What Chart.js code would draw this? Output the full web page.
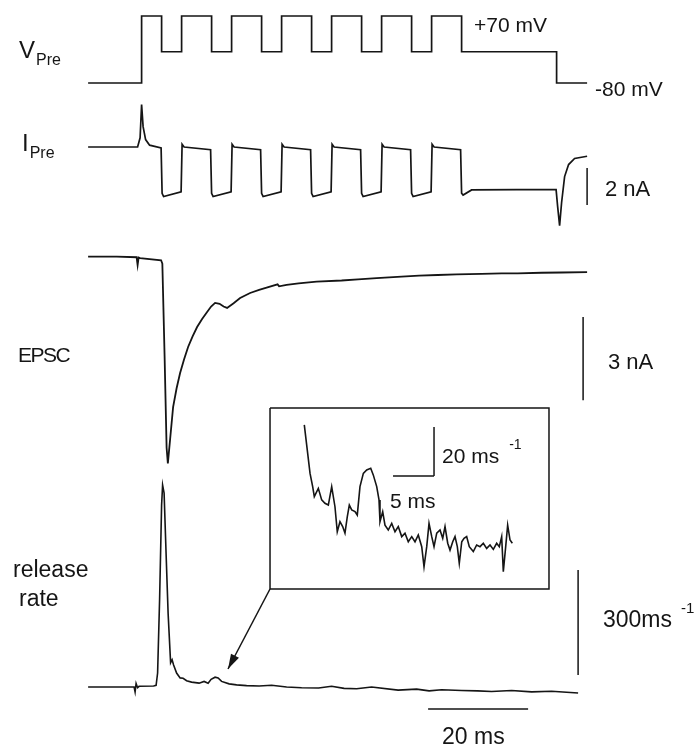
<!DOCTYPE html>
<html><head><meta charset="utf-8">
<script src="https://cdn.jsdelivr.net/npm/chart.js@4.4.1/dist/chart.umd.min.js"></script>
<style>html,body{margin:0;padding:0;background:#fff;} canvas{display:block}</style>
</head><body><canvas id="c" width="697" height="750"></canvas>
<script>
// ---------- data (time in ms) ----------
const vPreTimeMs = [-10.7,0, 0,4, 4,8, 8,14, 14,18, 18,24, 24,28, 28,34, 34,38, 38,44, 44,48, 48,54, 54,58, 58,64, 64,83, 83,89.1];
const vPreMv     = [-80,-80, 70,70, -10,-10, 70,70, -10,-10, 70,70, -10,-10, 70,70, -10,-10, 70,70, -10,-10, 70,70, -10,-10, 70,70, -10,-10, -80,-80];

const iPreTimeMs = [-10.7,-0.8,-0.3,0.0,0.3,0.8,1.6,3.9,4.1,4.4,7.9,8.1,8.5,13.8,14.0,14.3,17.9,18.1,18.5,23.8,24.0,24.3,27.9,28.1,28.5,33.8,34.0,34.3,37.9,38.1,38.5,43.8,44.0,44.3,47.9,48.1,48.5,53.8,54.0,54.3,57.9,58.1,58.5,63.8,64.0,64.3,66.0,75.0,82.9,83.2,83.6,84.0,84.6,85.4,86.6,89.1];
const iPreNa     = [0,0,0.5,2.3,1.1,0.4,0.1,-0.05,-2.5,-2.68,-2.42,0.15,0.0,-0.15,-2.5,-2.68,-2.42,0.15,0.0,-0.15,-2.5,-2.68,-2.42,0.15,0.0,-0.15,-2.5,-2.68,-2.42,0.15,0.0,-0.15,-2.5,-2.68,-2.42,0.15,0.0,-0.15,-2.5,-2.68,-2.42,0.15,0.0,-0.15,-2.5,-2.6,-2.32,-2.3,-2.3,-3.2,-4.25,-3.0,-1.6,-0.95,-0.62,-0.5];

const epscTimeMs = [-10.7,-5,-1.0,-0.8,-0.6,-0.3,3.9,4.15,4.6,5.0,5.25,5.7,6.3,7.0,7.7,8.5,9.3,10.2,11.1,12.1,13.1,13.9,14.7,15.6,16.4,17.1,18.4,19.7,21.7,23.5,25,27.2,27.5,29,31.4,35,40,43.3,47,52,55.5,59.2,63,68,72,75.2,80,84,89.1];
const epscNa     = [0,0,-0.02,-0.3,-0.03,-0.05,-0.13,-0.25,-3.6,-6.9,-7.46,-6.6,-5.43,-4.75,-4.2,-3.7,-3.26,-2.88,-2.54,-2.25,-2.0,-1.8,-1.67,-1.7,-1.8,-1.85,-1.68,-1.49,-1.31,-1.2,-1.12,-1.0,-1.07,-1.02,-0.96,-0.9,-0.86,-0.82,-0.77,-0.72,-0.68,-0.66,-0.64,-0.62,-0.6,-0.6,-0.58,-0.57,-0.56];

const releaseTimeMs = [-10.7,-1.5,-1.3,-1.1,-0.8,-0.5,2.4,2.9,3.2,3.6,4.0,4.2,4.5,4.9,5.3,5.8,6.1,6.4,7.0,7.7,8.3,9.0,10.0,11.5,12.5,13.3,13.9,14.7,15.3,16.0,17.5,19,21,23.5,26,29,32,35.4,38,40.5,43,46,51.3,55,57.5,60,64,67.2,70,74,78,82,85,87.3];
const releaseRate   = [0,0,-14,10,-2,2,3,5,40,250,520,577,554,380,211,69,78,63,40,26,25,18,14,11,16,11,22,28,26,16,9,6,4,3,5,0,-2,-3,2,-4,-5,0,-9,-6,-11,-8,-10,-11,-13,-10,-14,-12,-15,-17];

// inset: expanded release rate (ms, ms^-1)
const insetTimeMs = [6.50,7.20,7.52,7.72,8.21,8.62,9.02,9.43,9.84,10.24,10.52,10.85,11.18,11.46,11.74,11.99,12.28,12.68,12.96,13.29,13.70,14.11,14.60,14.91,15.33,15.61,15.73,16.06,16.34,16.74,17.16,17.56,17.96,18.38,18.78,19.18,19.60,20.00,20.40,20.82,21.10,21.43,21.71,22.04,22.32,22.65,23.05,23.38,23.66,23.99,24.27,24.60,24.88,25.16,25.40,25.70,25.98,26.30,26.62,27.11,27.52,27.93,28.33,28.74,29.15,29.55,29.96,30.28,30.57,30.77,31.06,31.30,31.59,31.87];
const insetRate   = [63.3,43.5,38.1,34.0,37.4,32.7,31.3,30.6,38.1,29.9,19.7,23.8,21.8,19.1,25.8,30.6,28.6,27.9,26.5,38.1,43.5,44.9,45.6,42.9,38.1,32.7,23.8,27.9,22.4,20.4,23.1,19.7,21.8,17.7,19.1,15.6,17.7,15.6,18.4,13.6,5.4,13.6,23.1,17.7,13.6,19.1,20.4,17.0,21.8,15.0,12.2,15.6,17.7,13.6,6.8,15.6,17.0,17.7,13.6,11.6,14.3,13.6,15.0,12.9,14.3,12.5,15.0,13.6,17.7,3.4,13.6,22.4,16.3,15.0];

// scale bars, frame and arrow (in each trace's own units)
const bar2nA   = {t:[89.1,89.1], v:[-1.13,-3.13]};
const bar3nA   = {t:[88.3,88.3], v:[-2.18,-5.18]};
const bar300   = {t:[87.3,87.3], v:[34,334]};
const bar20ms  = {t:[57.3,77.3], v:[-63,-63]};
const insetBarY = {t:[22.32,22.32], v:[42.4,62.4]};
const insetBarX = {t:[17.32,22.32], v:[42.4,42.4]};
const insetFrame = {t:[2.32,36.34,36.34,2.32,2.32], v:[70.2,70.2,-3.67,-3.67,70.2]};
const arrowLine = {t:[25.68,17.28], v:[280,51.4]};

// text labels
const labels = [
  {text:'V', sub:'Pre', x:19, y:58, size:24},
  {text:'I', sub:'Pre', x:22, y:151, size:24},
  {text:'EPSC', x:18, y:362, size:21, spacing:-1.5},
  {text:'release', x:13, y:577, size:23},
  {text:'rate', x:19, y:606, size:23},
  {text:'+70 mV', x:474, y:32, size:21},
  {text:'-80 mV', x:595, y:96, size:21},
  {text:'2 nA', x:605, y:196, size:22},
  {text:'3 nA', x:608, y:369, size:22},
  {text:'300ms', sup:'-1', supGap:9, x:603, y:627, size:23},
  {text:'20 ms', x:442, y:744, size:23},
  {text:'20 ms', sup:'-1', supGap:10, x:442, y:463, size:21},
  {text:'5 ms', x:390, y:508, size:21}
];

// ---------- chart ----------
const pts = (xs, ys) => xs.map((x, i) => ({x: x, y: ys[i]}));
const ds = (xs, ys, xAxisID, yAxisID, w) => ({
  data: pts(xs, ys), xAxisID, yAxisID, showLine: true, borderColor: '#151515',
  borderWidth: w, pointRadius: 0, tension: 0, fill: false, clip: false
});

const datasets = [
  ds(vPreTimeMs, vPreMv, 'x', 'yV', 1.7),
  ds(iPreTimeMs, iPreNa, 'x', 'yI', 1.7),
  ds(epscTimeMs, epscNa, 'x', 'yE', 1.8),
  ds(releaseTimeMs, releaseRate, 'x', 'yR', 1.6),
  ds(insetTimeMs, insetRate, 'xIn', 'yIn', 1.6),
  ds(bar2nA.t, bar2nA.v, 'x', 'yI', 1.5),
  ds(bar3nA.t, bar3nA.v, 'x', 'yE', 1.5),
  ds(bar300.t, bar300.v, 'x', 'yR', 1.5),
  ds(bar20ms.t, bar20ms.v, 'x', 'yR', 1.5),
  ds(insetBarY.t, insetBarY.v, 'xIn', 'yIn', 1.5),
  ds(insetBarX.t, insetBarX.v, 'xIn', 'yIn', 1.5),
  ds(insetFrame.t, insetFrame.v, 'xIn', 'yIn', 1.5),
  ds(arrowLine.t, arrowLine.v, 'x', 'yR', 1.5)
];
const ARROW_INDEX = datasets.length - 1;

const textPlugin = {
  id: 'figText',
  afterDraw(chart) {
    const c = chart.ctx;
    c.save();
    c.fillStyle = '#151515';
    c.textBaseline = 'alphabetic';
    labels.forEach(l => {
      c.font = l.size + 'px "Liberation Sans", Arial, sans-serif';
      c.letterSpacing = (l.spacing || 0) + 'px';
      c.fillText(l.text, l.x, l.y);
      const w = c.measureText(l.text).width;
      c.letterSpacing = '0px';
      if (l.sub) {
        c.font = Math.round(l.size * 0.66) + 'px "Liberation Sans", Arial, sans-serif';
        c.fillText(l.sub, l.x + w + 1, l.y + 7);
      }
      if (l.sup) {
        c.font = Math.round(l.size * 0.66) + 'px "Liberation Sans", Arial, sans-serif';
        c.fillText(l.sup, l.x + w + (l.supGap || 6), l.y - 14);
      }
    });
    c.restore();
  }
};

const arrowPlugin = {
  id: 'arrowHead',
  afterDatasetsDraw(chart) {
    const meta = chart.getDatasetMeta(ARROW_INDEX);
    const p0 = meta.data[0], p1 = meta.data[1];
    if (!p0 || !p1) return;
    const a = Math.atan2(p1.y - p0.y, p1.x - p0.x);
    const L = 15, H = 4.5;
    const c = chart.ctx;
    c.save();
    c.fillStyle = '#151515';
    c.beginPath();
    c.moveTo(p1.x, p1.y);
    c.lineTo(p1.x - L * Math.cos(a) + H * Math.sin(a), p1.y - L * Math.sin(a) - H * Math.cos(a));
    c.lineTo(p1.x - L * Math.cos(a) - H * Math.sin(a), p1.y - L * Math.sin(a) + H * Math.cos(a));
    c.closePath();
    c.fill();
    c.restore();
  }
};

const hidden = (axis, min, max) => ({type: 'linear', axis, display: false, min, max});

new Chart(document.getElementById('c'), {
  type: 'scatter',
  data: {datasets},
  options: {
    responsive: false,
    animation: false,
    devicePixelRatio: 1,
    events: [],
    layout: {padding: 0},
    plugins: {legend: {display: false}, tooltip: {enabled: false}},
    scales: {
      x:   hidden('x', -28.32, 111.08),
      xIn: hidden('x', -30.61, 54.39),
      yV:  hidden('y', -1573.2, 105.8),
      yI:  hidden('y', -32.595, 7.946),
      yE:  hidden('y', -17.809, 9.267),
      yR:  hidden('y', -180.0, 1962.86),
      yIn: hidden('y', -69.39, 236.73)
    }
  },
  plugins: [textPlugin, arrowPlugin]
});
</script>
</body></html>
